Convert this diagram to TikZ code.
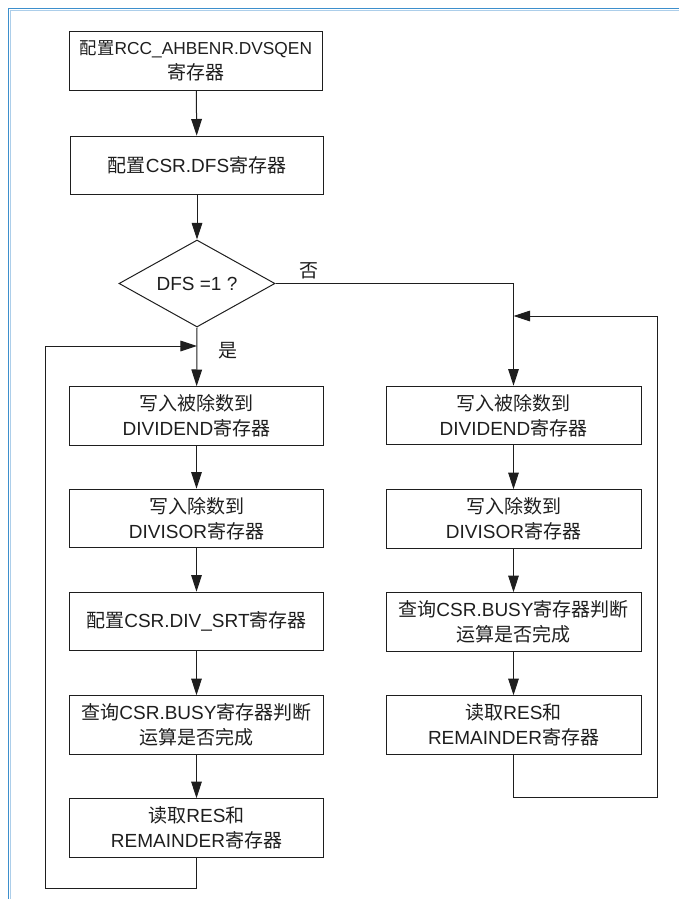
\documentclass[tikz,border=0pt]{standalone}
\usepackage{fontspec}
\setmainfont{Liberation Sans}
\newfontfamily\zhfont{Noto Sans CJK SC}
\newcommand{\zh}[1]{{\zhfont #1}}
\usetikzlibrary{shapes.geometric,arrows.meta}

\definecolor{frameblue}{RGB}{61,143,204}
\definecolor{frameshade}{RGB}{172,206,234}
\definecolor{inkgray}{RGB}{30,30,30}

\tikzset{
  procbox/.style={draw=inkgray, line width=0.75pt, rectangle, align=center,
    minimum width=190pt, minimum height=44pt, inner sep=1pt, text=inkgray,
    font=\fontsize{14.25}{18.75}\selectfont},
  decbox/.style={draw=inkgray, line width=0.75pt, diamond, aspect=1.8, inner sep=0pt,
    minimum width=117pt, minimum height=65.25pt, text=inkgray,
    font=\fontsize{14.25}{18.75}\selectfont},
  tag/.style={inner sep=0.75pt, text=inkgray, font=\fontsize{14.25}{16}\selectfont},
  flow/.style={draw=inkgray, line width=0.75pt, -{Triangle[length=12.5pt,width=8pt]}},
  wire/.style={draw=inkgray, line width=0.75pt},
}

\begin{document}
\begin{tikzpicture}[x=0.75pt,y=0.75pt,yscale=-1,xscale=1]
        \useasboundingbox (0,0) rectangle (679,899);

        %Shape: Frame
        \draw [frameshade, line width=0.75pt] (679,10.5) -- (10.5,10.5) -- (10.5,899) ;
        \draw [frameblue, line width=1.3pt] (679,8.5) -- (8.5,8.5) -- (8.5,899) ;

        %Shape: Rectangle (setup)
        \node [procbox] (cfgrcc) at (196,61) {{\fontsize{13}{18.75}\selectfont\zh{配置}RCC\_AHBENR.DVSQEN}\\\zh{寄存器}};
        \node [procbox] (cfgdfs) at (197,165.5) {\zh{配置}CSR.DFS\zh{寄存器}};
        %Shape: Diamond
        \node [decbox] (dfs) at (197,283.5) {DFS =1 ?};

        %Shape: Rectangle (left branch)
        \node [procbox] (ldividend) at (196.5,416) {\zh{写入被除数到}\\DIVIDEND\zh{寄存器}};
        \node [procbox] (ldivisor) at (196.5,518.5) {\zh{写入除数到}\\DIVISOR\zh{寄存器}};
        \node [procbox] (lsrt) at (196.5,621.5) {\zh{配置}CSR.DIV\_SRT\zh{寄存器}};
        \node [procbox] (lbusy) at (196.5,725) {\zh{查询}CSR.BUSY\zh{寄存器判断}\\\zh{运算是否完成}};
        \node [procbox] (lread) at (196.5,828) {\zh{读取}RES\zh{和}\\REMAINDER\zh{寄存器}};

        %Shape: Rectangle (right branch)
        \node [procbox, minimum width=191.25pt] (rdividend) at (513.5,415.5) {\zh{写入被除数到}\\DIVIDEND\zh{寄存器}};
        \node [procbox, minimum width=191.25pt] (rdivisor) at (513.5,519) {\zh{写入除数到}\\DIVISOR\zh{寄存器}};
        \node [procbox, minimum width=191.25pt] (rbusy) at (513.5,622) {\zh{查询}CSR.BUSY\zh{寄存器判断}\\\zh{运算是否完成}};
        \node [procbox, minimum width=191.25pt] (rread) at (513.5,725) {\zh{读取}RES\zh{和}\\REMAINDER\zh{寄存器}};

        % Text Node
        \node [tag] (nolabel) at (309,271) {\zh{否}};
        % Text Node
        \node [tag] (yeslabel) at (228,351) {\zh{是}};

        %Loop corners
        \coordinate (ljoin) at (197,346);
        \coordinate (lbot) at (45,888);
        \coordinate (rjoin) at (513.5,316);
        \coordinate (rbot) at (657,797);

        %Straight Lines
        \draw [flow] (cfgrcc) -- (cfgdfs) ;
        \draw [flow] (cfgdfs) -- (dfs) ;
        \draw [flow] (dfs.south) -- (ldividend) ;
        \draw [flow] (dfs.east) -| (rdividend) ;
        \draw [flow] (ldividend) -- (ldivisor) ;
        \draw [flow] (ldivisor) -- (lsrt) ;
        \draw [flow] (lsrt) -- (lbusy) ;
        \draw [flow] (lbusy) -- (lread) ;
        \draw [flow] (rdividend) -- (rdivisor) ;
        \draw [flow] (rdivisor) -- (rbusy) ;
        \draw [flow] (rbusy) -- (rread) ;
        %Loop Lines
        \draw [flow] (lread.south) |- (lbot) |- (ljoin) ;
        \draw [flow] (rread.south) |- (rbot) |- (rjoin) ;

\end{tikzpicture}
\end{document}
